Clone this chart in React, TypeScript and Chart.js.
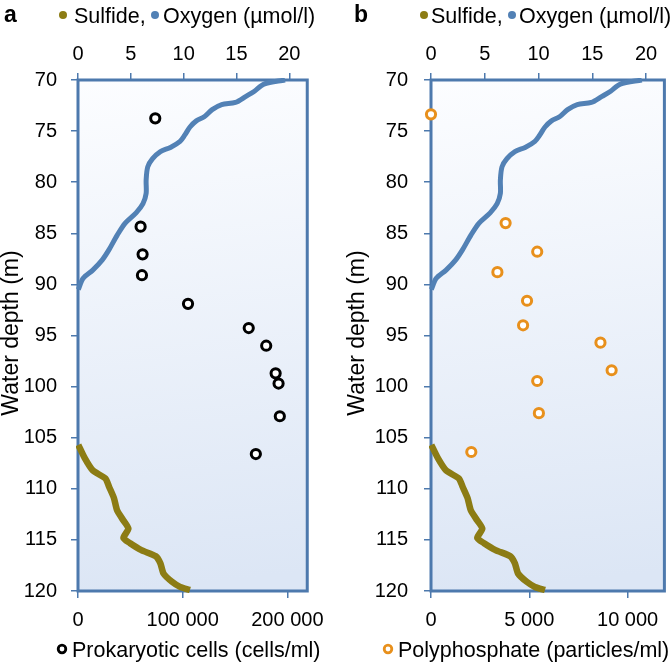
import React, { useEffect, useRef } from 'react';
import { Chart, registerables } from 'chart.js';

Chart.register(...registerables);

const FONT = '"Liberation Sans", Arial, Helvetica, sans-serif';

// ---- data ----
const DEPTH_TICKS = [70, 75, 80, 85, 90, 95, 100, 105, 110, 115, 120];
const CONC_TICKS = [0, 5, 10, 15, 20];

const OXYGEN_DEPTH = [70.0, 70.4, 71.1, 71.6, 72.2, 72.4, 72.9, 73.6, 74.0, 74.6, 75.4, 76.0, 76.6, 77.0, 77.7, 78.5, 79.8, 81.1, 82.1, 83.0, 84.0, 85.2, 86.6, 87.6, 88.6, 89.4, 90.5];
const OXYGEN = [19.6, 17.6, 16.7, 15.9, 14.9, 13.6, 12.7, 11.95, 11.2, 10.6, 10.1, 9.66, 8.75, 7.8, 7.06, 6.6, 6.45, 6.45, 6.15, 5.5, 4.47, 3.7, 2.94, 2.3, 1.4, 0.49, 0.03];

const SULFIDE_DEPTH = [105.7, 107.0, 108.2, 109.0, 109.8, 110.9, 112.1, 113.1, 113.9, 114.8, 115.3, 116.0, 116.6, 117.3, 118.3, 119.1, 119.6, 119.9];
const SULFIDE = [0.03, 0.64, 1.4, 2.6, 2.94, 3.4, 3.7, 4.3, 4.77, 4.3, 4.9, 6.0, 7.37, 7.8, 8.1, 8.9, 9.66, 10.6];

const CELL_DEPTH = [73.75, 84.35, 87.06, 89.1, 91.9, 94.27, 96.0, 98.7, 99.7, 102.9, 106.6];
const CELLS = [73800, 59800, 61700, 61100, 105100, 163100, 179800, 188800, 191600, 192800, 169900];
const CELL_TICKS = [0, 100000, 200000];
const CELL_TICK_LABELS = ['0', '100 000', '200 000'];

const POLYP_DEPTH = [73.36, 84.0, 86.8, 88.8, 91.6, 94.0, 95.7, 98.4, 99.45, 102.6, 106.4];
const POLYP = [0, 3794, 5402, 3377, 4884, 4683, 8618, 9186, 5402, 5487, 2050];
const POLYP_TICKS = [0, 5000, 10000];
const POLYP_TICK_LABELS = ['0', '5 000', '10 000'];

// ---- styles ----
const OXY_COLOR = '#5281b5';
const SULF_COLOR = '#8c7c14';
const FRAME_COLOR = '#4d79ad';

const PANEL_A = {
  letter: 'a', letterX: 4,
  dot1X: 63, text1X: 74, dot2X: 155, text2X: 163,
  yTitleX: 12,
  circX: 62, botTextX: 72,
  botLabel: 'Prokaryotic cells (cells/ml)',
  markerColor: '#000000',
  vals: CELLS, depths: CELL_DEPTH, ticks: CELL_TICKS, tickLabels: CELL_TICK_LABELS,
  bottomMax: 219000,
  left: 78, padRight: 22, yPad: 14,
};

const PANEL_B = {
  letter: 'b', letterX: 18,
  dot1X: 88, text1X: 95, dot2X: 176, text2X: 183,
  yTitleX: 22,
  circX: 52, botTextX: 62,
  botLabel: 'Polyphosphate (particles/ml)',
  markerColor: '#e8901c',
  vals: POLYP, depths: POLYP_DEPTH, ticks: POLYP_TICKS, tickLabels: POLYP_TICK_LABELS,
  bottomMax: 11870,
  left: 95, padRight: 6, yPad: 16,
};

const bgPlugin = {
  id: 'panelBg',
  beforeDraw(chart: any) {
    const { ctx, chartArea: a } = chart;
    ctx.save();
    const g = ctx.createLinearGradient(a.left, a.top, a.left + (a.right - a.left) * 0.25, a.bottom);
    g.addColorStop(0, '#fcfdff');
    g.addColorStop(1, '#dce6f5');
    ctx.fillStyle = g;
    ctx.fillRect(a.left, a.top, a.right - a.left, a.bottom - a.top);
    ctx.restore();
  },
  beforeDatasetsDraw(chart: any) {
    const { ctx, chartArea: a } = chart;
    ctx.save();
    ctx.strokeStyle = FRAME_COLOR;
    ctx.lineWidth = 3;
    ctx.strokeRect(a.left, a.top, a.right - a.left, a.bottom - a.top);
    ctx.restore();
  },
};

const textPlugin = {
  id: 'panelText',
  afterDraw(chart: any, _args: any, o: any) {
    const ctx = chart.ctx;
    ctx.save();
    ctx.fillStyle = '#000';
    ctx.textAlign = 'left';
    ctx.textBaseline = 'alphabetic';
    ctx.font = `bold 23px ${FONT}`;
    ctx.fillText(o.letter, o.letterX, 22);

    ctx.font = `21.5px ${FONT}`;
    const dot = (x: number, y: number, c: string) => {
      ctx.beginPath();
      ctx.arc(x, y, 4, 0, Math.PI * 2);
      ctx.fillStyle = c;
      ctx.fill();
    };
    dot(o.dot1X, 15, SULF_COLOR);
    ctx.fillStyle = '#000';
    ctx.fillText('Sulfide,', o.text1X, 22.5);
    dot(o.dot2X, 15, OXY_COLOR);
    ctx.fillStyle = '#000';
    ctx.fillText('Oxygen (µmol/l)', o.text2X, 22.5);

    ctx.beginPath();
    ctx.arc(o.circX, 649, 3.8, 0, Math.PI * 2);
    ctx.lineWidth = 2.8;
    ctx.strokeStyle = o.markerColor;
    ctx.stroke();
    ctx.fillStyle = '#000';
    ctx.fillText(o.botLabel, o.botTextX, 657);

    ctx.font = `23px ${FONT}`;
    ctx.translate(o.yTitleX, 333);
    ctx.rotate(-Math.PI / 2);
    ctx.textAlign = 'center';
    ctx.textBaseline = 'middle';
    ctx.fillText('Water depth (m)', 0, 0);
    ctx.restore();
  },
};

function makeConfig(p: any) {
  const tickFont = { family: FONT, size: 20 };
  const grid = { drawOnChartArea: false, drawTicks: true, tickLength: 7, color: FRAME_COLOR, lineWidth: 1.5 };
  return {
    type: 'scatter',
    data: {
      datasets: [
        {
          data: OXYGEN.map((v, i) => ({ x: v, y: OXYGEN_DEPTH[i] })),
          xAxisID: 'x2', yAxisID: 'y',
          showLine: true, borderColor: OXY_COLOR, borderWidth: 5,
          pointRadius: 0, tension: 0.3, clip: 2,
        },
        {
          data: SULFIDE.map((v, i) => ({ x: v, y: SULFIDE_DEPTH[i] })),
          xAxisID: 'x2', yAxisID: 'y',
          showLine: true, borderColor: SULF_COLOR, borderWidth: 6.5,
          pointRadius: 0, tension: 0.2, clip: 2,
        },
        {
          data: p.vals.map((v: number, i: number) => ({ x: v, y: p.depths[i] })),
          xAxisID: 'x', yAxisID: 'y',
          showLine: false, pointRadius: 4.6, pointBorderWidth: 3,
          pointBorderColor: p.markerColor, pointBackgroundColor: '#ffffff',
          borderColor: p.markerColor, backgroundColor: '#ffffff', clip: false,
        },
      ],
    },
    options: {
      responsive: false,
      maintainAspectRatio: false,
      devicePixelRatio: 1,
      animation: false,
      events: [],
      layout: { padding: { left: 0, right: p.padRight, top: 0, bottom: 0 } },
      plugins: {
        legend: { display: false },
        tooltip: { enabled: false },
        panelText: p,
      },
      scales: {
        y: {
          type: 'linear', axis: 'y', position: 'left', reverse: true, min: 70, max: 120,
          afterBuildTicks: (s: any) => { s.ticks = DEPTH_TICKS.map((v) => ({ value: v })); },
          afterFit: (s: any) => { s.width = p.left; },
          ticks: { font: tickFont, color: '#000', padding: p.yPad, callback: (v: any) => String(v) },
          grid, border: { display: false },
        },
        x2: {
          type: 'linear', axis: 'x', position: 'top', min: 0, max: 21.7,
          afterBuildTicks: (s: any) => { s.ticks = CONC_TICKS.map((v) => ({ value: v })); },
          afterFit: (s: any) => { s.height = 80; },
          ticks: { font: tickFont, color: '#000', padding: 7, maxRotation: 0, callback: (v: any) => String(v) },
          grid, border: { display: false },
        },
        x: {
          type: 'linear', axis: 'x', position: 'bottom', min: 0, max: p.bottomMax,
          afterBuildTicks: (s: any) => { s.ticks = p.ticks.map((v: number) => ({ value: v })); },
          afterFit: (s: any) => { s.height = 77; },
          ticks: {
            font: tickFont, color: '#000', padding: 10, maxRotation: 0,
            callback: (v: any) => { const k = p.ticks.indexOf(v); return k >= 0 ? p.tickLabels[k] : ''; },
          },
          grid, border: { display: false },
        },
      },
    },
    plugins: [bgPlugin, textPlugin],
  };
}

function Panel({ cfg, x }: { cfg: any; x: number }) {
  const ref = useRef<HTMLCanvasElement | null>(null);
  useEffect(() => {
    if (!ref.current) return;
    const chart = new Chart(ref.current, makeConfig(cfg) as any);
    return () => chart.destroy();
  }, [cfg]);
  return (
    <canvas
      ref={ref}
      width={336}
      height={668}
      style={{ position: 'absolute', left: x, top: 0, width: 336, height: 668 }}
    />
  );
}

export default function App() {
  return (
    <div style={{ position: 'absolute', left: 0, top: 0, width: 672, height: 668, background: '#fff', overflow: 'hidden' }}>
      <Panel cfg={PANEL_A} x={0} />
      <Panel cfg={PANEL_B} x={336} />
    </div>
  );
}
